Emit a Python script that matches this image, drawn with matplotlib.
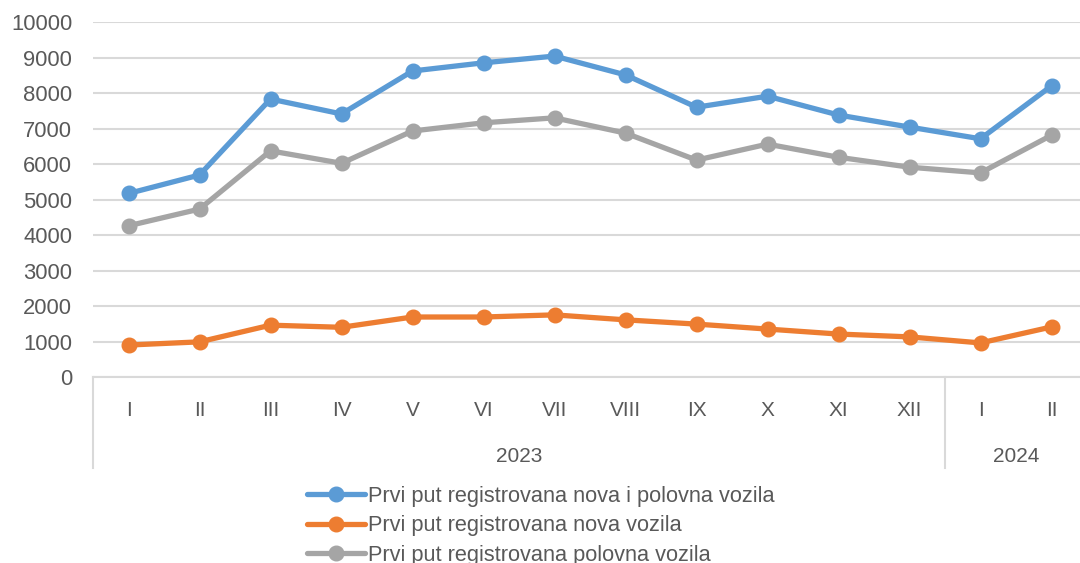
import matplotlib
matplotlib.use('Agg')
import matplotlib.pyplot as plt
import matplotlib.transforms as mtransforms

plt.rcParams['font.family'] = ['Liberation Sans', 'DejaVu Sans']

# data
months = ['I', 'II', 'III', 'IV', 'V', 'VI', 'VII', 'VIII', 'IX', 'X', 'XI', 'XII', 'I', 'II']
years = ['2023', '2024']
year_counts = [12, 2]
total = [5170, 5690, 7830, 7410, 8620, 8850, 9040, 8510, 7600, 7910, 7380, 7040, 6710, 8200]
new = [900, 990, 1460, 1400, 1690, 1690, 1750, 1610, 1490, 1350, 1210, 1130, 960, 1410]
used = [4260, 4730, 6370, 6020, 6930, 7160, 7300, 6870, 6110, 6560, 6190, 5910, 5750, 6810]
labels = ['Prvi put registrovana nova i polovna vozila',
          'Prvi put registrovana nova vozila',
          'Prvi put registrovana polovna vozila']
colors = ['#5B9BD5', '#ED7D31', '#A5A5A5']

text_col = '#595959'
grid_col = '#D9D9D9'

fig = plt.figure(figsize=(10.8, 5.63), dpi=100)
ax = fig.add_axes([93 / 1080, 1 - 377 / 563, 994 / 1080, 355 / 563])

x = list(range(len(months)))
for series, lab, col in zip([total, new, used], labels, colors):
    ax.plot(x, series, color=col, lw=3.8, marker='o', markersize=10.5,
            solid_capstyle='round', label=lab, zorder=3)

ax.set_xlim(-0.5, len(months) - 0.5)
ax.set_ylim(0, 10000)
ax.set_yticks(range(0, 10001, 1000))
ax.grid(axis='y', color=grid_col, lw=1.5)
ax.set_axisbelow(True)
for s in ['top', 'right', 'left']:
    ax.spines[s].set_visible(False)
ax.spines['bottom'].set_color(grid_col)
ax.spines['bottom'].set_linewidth(1.5)
ax.tick_params(axis='y', length=0, pad=15, labelsize=15.8, labelcolor=text_col)
ax.tick_params(axis='x', length=0, pad=17, labelsize=15, labelcolor=text_col)
ax.set_xticks(x)
ax.set_xticklabels(months)

# year grouping under the month labels
trans = mtransforms.blended_transform_factory(ax.transData, ax.transAxes)
start = 0
bounds = [-0.5]
for yr, n in zip(years, year_counts):
    mid = start + (n - 1) / 2
    ax.text(mid, -0.225, yr, transform=trans, ha='center', va='center',
            fontsize=15, color=text_col)
    start += n
    bounds.append(start - 0.5)
for b in bounds:
    ax.plot([b, b], [0, -0.257], transform=trans, color=grid_col, lw=1.5,
            clip_on=False)

fig.legend(loc='upper left', bbox_to_anchor=(307 / 1080, 1 - 486 / 563),
           frameon=False, fontsize=15.7, handlelength=2.66, handletextpad=0.12,
           labelspacing=0.38, borderpad=0, borderaxespad=0, labelcolor=text_col)

fig.savefig('out.png', dpi=100)
